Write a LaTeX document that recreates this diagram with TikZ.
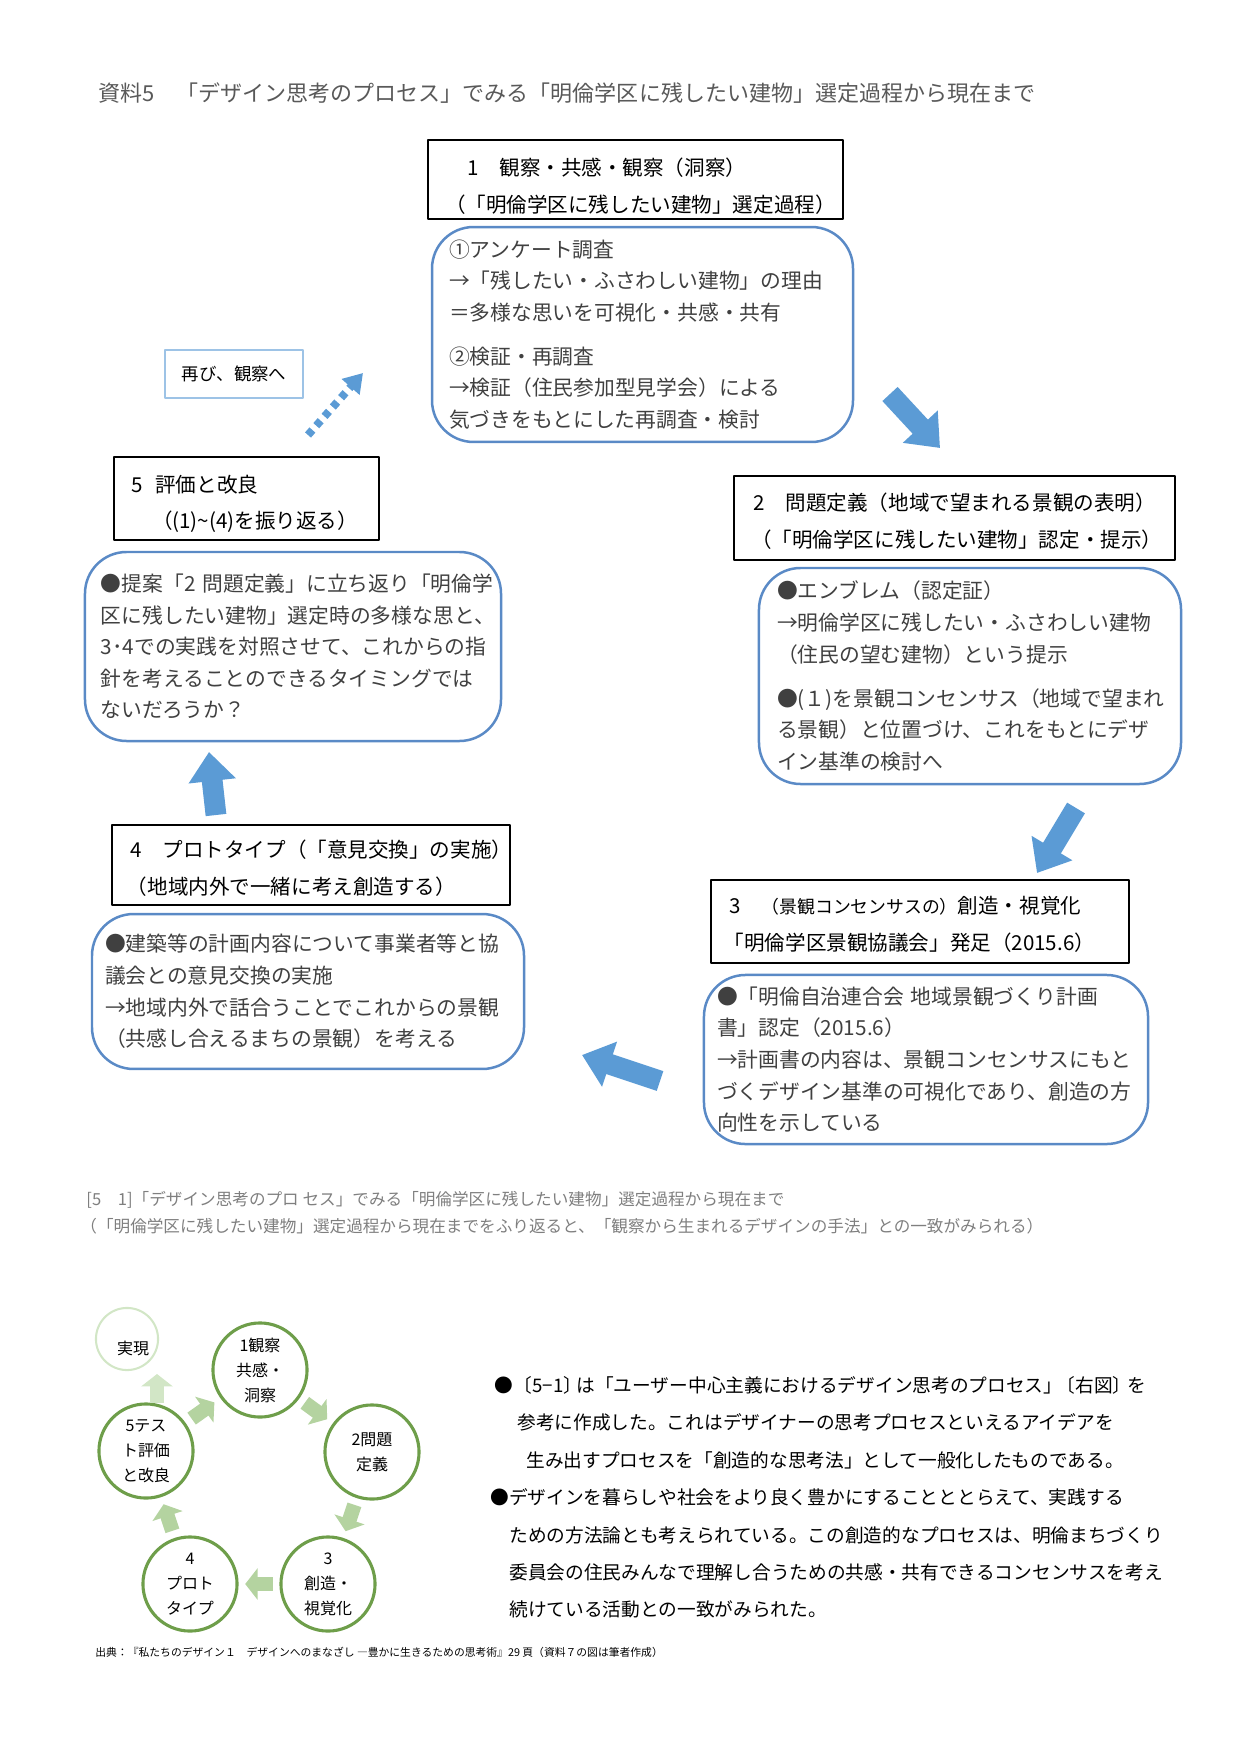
\documentclass[tikz,border=0pt]{standalone}
\usepackage{fontspec}
\setmainfont{Noto Sans CJK JP}
\usetikzlibrary{arrows.meta,calc}
\definecolor{boxblue}{HTML}{5A8AC6}
\definecolor{arrowblue}{HTML}{5B9BD5}
\definecolor{paleblue}{HTML}{9DC3E6}
\definecolor{ringgreen}{HTML}{6E9E4A}
\definecolor{arrowgreen}{HTML}{B4D3A0}
\definecolor{palegreen}{HTML}{D2E6C6}
\definecolor{bodygray}{HTML}{404040}
\definecolor{titlegray}{HTML}{595959}
\definecolor{capgray}{HTML}{7F7F7F}
\begin{document}
\begin{tikzpicture}[x=0.169218mm, y=-0.169218mm, line join=round,
	headbox/.style={draw=black, line width=0.7pt, inner sep=0pt, align=left, font=\fontsize{9.9}{17.8}\selectfont},
	roundbox/.style={draw=boxblue, line width=1.2pt, rounded corners=20pt, inner ysep=0pt, align=left, text=bodygray, font=\fontsize{10}{15.2}\selectfont},
	bluearrow/.style={arrowblue, line width=10pt, -{Triangle[width=22pt,length=14pt]}},
	ring/.style={circle, draw=ringgreen, line width=1.5pt, minimum size=45.3pt, inner sep=0pt, align=center, font=\fontsize{7.7}{12}\selectfont},
	greenarrow/.style={arrowgreen, line width=7pt, -{Triangle[width=15pt,length=6pt]}}]
	\useasboundingbox (0,0) rectangle (1241,1754);
	\node[anchor=west, inner sep=0pt, text=titlegray, font=\fontsize{10.6}{13}\selectfont] (title) at (98,93) {資料5　「デザイン思考のプロセス」でみる「明倫学区に残したい建物」選定過程から現在まで};
	% 1
	\node[headbox, text width=199.8pt, minimum height=38pt] (h1) at (635.5,179.5) {\rule{0pt}{14.5pt}\hspace*{19pt}1　観察・共感・観察（洞察）\\\hspace*{8.2pt}（「明倫学区に残したい建物」選定過程）};
	\node[roundbox, text width=186.3pt, inner xsep=8.2pt, minimum height=103.5pt] (r1) at (642.5,334.5) {①アンケート調査\\→「残したい・ふさわしい建物」の理由\\＝多様な思いを可視化・共感・共有\\[6pt]②検証・再調査\\→検証（住民参加型見学会）による\\気づきをもとにした再調査・検討};
	% 2
	\node[headbox, text width=212.3pt, minimum height=40.4pt] (h2) at (954.5,518) {\rule{0pt}{11.6pt}\hspace*{9.5pt}2　問題定義（地域で望まれる景観の表明）\\\hspace*{8.2pt}（「明倫学区に残したい建物」認定・提示）};
	\node[roundbox, text width=185.8pt, inner xsep=8.7pt, minimum height=104pt] (r2) at (970,676) {●エンブレム（認定証）\\→明倫学区に残したい・ふさわしい建物\\（住民の望む建物）という提示\\[6pt]●(１)を景観コンセンサス（地域で望まれ\\る景観）と位置づけ、これをもとにデザ\\イン基準の検討へ};
	% 3
	\node[headbox, text width=201.3pt, minimum height=40pt] (h3) at (920,921.5) {\rule{0pt}{10.6pt}\hspace*{9pt}3　{\fontsize{8.6}{17.8}\selectfont（景観コンセンサスの）}創造・視覚化\\\hspace*{6.2pt}「明倫学区景観協議会」発足（2015.6）};
	\node[roundbox, text width=201.2pt, inner xsep=6.3pt, minimum height=81.4pt] (r3) at (926,1059.5) {●「明倫自治連合会~地域景観づくり計画\\書」認定（2015.6）\\→計画書の内容は、景観コンセンサスにもと\\づくデザイン基準の可視化であり、創造の方\\向性を示している};
	% 4
	\node[headbox, text width=191.6pt, minimum height=38.5pt] (h4) at (311,865) {\rule{0pt}{11.6pt}\hspace*{9pt}4　プロトタイプ（「意見交換」の実施）\\\hspace*{7.2pt}（地域内外で一緒に考え創造する）};
	\node[roundbox, text width=195.4pt, inner xsep=6.3pt, minimum height=74.6pt] (r4) at (308,991.5) {●建築等の計画内容について事業者等と協\\議会との意見交換の実施\\→地域内外で話合うことでこれからの景観\\（共感し合えるまちの景観）を考える};
	% 5
	\node[headbox, text width=127.6pt, minimum height=40pt] (h5) at (246.5,498.5) {\rule{0pt}{13.5pt}\hspace*{8.5pt}5\hspace{0.6em}評価と改良\\\hspace*{18.3pt}（(1)\textasciitilde(4)を振り返る）};
	\node[roundbox, text width=184.9pt, inner xsep=7.7pt, minimum height=91pt] (r5) at (293,646.5) {●提案「2~問題定義」に立ち返り「明倫学\\区に残したい建物」選定時の多様な思と、\\3･4での実践を対照させて、これからの指\\針を考えることのできるタイミングでは\\ないだろうか？};
	\node[draw=paleblue, line width=1.2pt, minimum width=66.4pt, minimum height=23.1pt, inner sep=0pt, font=\fontsize{8.4}{10}\selectfont] (again) at (234,374) {再び、観察へ};
	% arrows
	\coordinate (d1) at (308,435); \coordinate (d2) at (363,373);
	\draw[arrowblue, line width=3.8pt, dash pattern=on 3.2pt off 2.8pt, -{Triangle[width=11pt,length=9pt]}] (d1) -- (d2);
	\coordinate (a12s) at (890,394); \coordinate (a12e) at (940,448);
	\coordinate (a23s) at (1076,808); \coordinate (a23e) at (1037,873);
	\coordinate (a34s) at (660,1081); \coordinate (a34e) at (582,1055);
	\coordinate (a45s) at (216,815); \coordinate (a45e) at (209,752);
	\foreach \s/\e in {a12s/a12e, a23s/a23e, a34s/a34e, a45s/a45e}
		\draw[bluearrow] (\s) -- (\e);
	% caption
	\node[anchor=west, inner sep=0pt, text=capgray, font=\fontsize{8}{10}\selectfont] (cap1) at (86,1200) {[5　1]「デザイン思考のプロ セス」でみる「明倫学区に残したい建物」選定過程から現在まで};
	\node[anchor=west, inner sep=0pt, text=capgray, font=\fontsize{8}{10}\selectfont] (cap2) at (80,1226) {（「明倫学区に残したい建物」選定過程から現在までをふり返ると、「観察から生まれるデザインの手法」との一致がみられる）};
	% cycle
	\node[ring] (c1) at (260,1370) {1観察\\共感・\\洞察};
	\node[ring] (c2) at (372,1452) {2問題\\定義};
	\node[ring] (c3) at (328,1584) {3\\創造・\\視覚化};
	\node[ring] (c4) at (190,1584) {4\\プロト\\タイプ};
	\node[ring] (c5) at (146,1451) {5テス\\ト評価\\と改良};
	\node[ring, draw=palegreen, line width=1pt, minimum size=29.9pt] (goal) at (127,1339) {};
	\node[font=\fontsize{7.7}{12}\selectfont, inner sep=0pt] (goaltext) at (133,1348) {実現};
	\foreach \a/\b in {c1/c2, c2/c3, c3/c4, c4/c5, c5/c1}
		\draw[greenarrow] ($(\a)!0.4!(\b)$) -- ($(\a)!0.6!(\b)$);
	\coordinate (g1) at (157,1403); \coordinate (g2) at (157,1374);
	\draw[greenarrow, palegreen] (g1) -- (g2);
	\node[anchor=north west, inner sep=0pt, text width=340pt, align=left, font=\fontsize{9}{18}\selectfont] (note) at (490,1376) {\hspace*{1.9pt}● \kern-.3em〔5−1〕\kern-.3emは「ユーザー中心主義におけるデザイン思考のプロセス」\kern-.3em〔右図〕\kern-.2emを\\
	\hspace*{13pt}参考に作成した。これはデザイナーの思考プロセスといえるアイデアを\\
	\hspace*{17.3pt}生み出すプロセスを「創造的な思考法」として一般化したものである。\\
	●デザインを暮らしや社会をより良く豊かにすることととらえて、実践する\\
	\hspace*{9.1pt}ための方法論とも考えられている。この創造的なプロセスは、明倫まちづくり\\
	\hspace*{9.1pt}委員会の住民みんなで理解し合うための共感・共有できるコンセンサスを考え\\
	\hspace*{9.1pt}続けている活動との一致がみられた。};
	\node[anchor=west, inner sep=0pt, font=\fontsize{5.2}{6}\selectfont] (source) at (95,1652) {出典：『私たちのデザイン１　デザインへのまなざし ―豊かに生きるための思考術』29 頁（資料７の図は筆者作成）};
\end{tikzpicture}
\end{document}
